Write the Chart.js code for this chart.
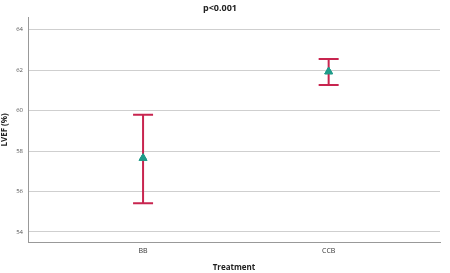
<!DOCTYPE html>
<html><head><meta charset="utf-8">
<script src="https://cdn.jsdelivr.net/npm/chart.js@4/dist/chart.umd.min.js"></script>
<style>html,body{margin:0;padding:0;background:#fff}#w{width:450px;height:273px}</style>
</head><body><div id="w"><canvas id="c"></canvas></div>
<script>
const categories = ["BB", "CCB"];
const means = [57.65, 61.93];
const upper = [59.8, 62.55];
const lower = [55.42, 61.27];
const yTicks = [54, 56, 58, 60, 62, 64];

const errorBars = {
  id: 'errorBars',
  afterDatasetsDraw(chart) {
    const ctx = chart.ctx, xs = chart.scales.x, ys = chart.scales.y;
    ctx.save();
    ctx.strokeStyle = '#c8254f';
    ctx.lineWidth = 2;
    categories.forEach((c, i) => {
      const x = xs.getPixelForValue(i);
      const yu = ys.getPixelForValue(upper[i]);
      const yl = ys.getPixelForValue(lower[i]);
      ctx.beginPath();
      ctx.moveTo(x, yu); ctx.lineTo(x, yl);
      ctx.moveTo(x - 10, yu); ctx.lineTo(x + 10, yu);
      ctx.moveTo(x - 10, yl); ctx.lineTo(x + 10, yl);
      ctx.stroke();
    });
    ctx.restore();
    const meta = chart.getDatasetMeta(0);
    meta.data.forEach(p => p.draw(ctx, chart.chartArea));
  }
};

new Chart(document.getElementById('c'), {
  type: 'scatter',
  data: {
    datasets: [{
      data: means.map((m, i) => ({x: i, y: m})),
      pointStyle: 'triangle',
      pointRadius: 4.5,
      backgroundColor: '#1f9c8a',
      borderColor: '#1f9c8a',
      borderWidth: 1
    }]
  },
  options: {
    responsive: true,
    maintainAspectRatio: false,
    animation: false,
    layout: {padding: {left: 0, right: 10, top: 0, bottom: 0}},
    plugins: {
      legend: {display: false},
      tooltip: {enabled: false},
      title: {display: true, text: 'p<0.001', color: '#222', font: {family: 'Open Sans', size: 9, weight: 'bold'}, padding: {top: 3, bottom: 4}}
    },
    scales: {
      x: {
        type: 'linear', min: -0.62, max: 1.6,
        afterBuildTicks: s => { s.ticks = categories.map((c, i) => ({value: i})); },
        ticks: {callback: v => categories[v], color: '#333', font: {family: 'Open Sans', size: 7}, padding: 5},
        grid: {display: false, drawTicks: false},
        border: {color: '#999', width: 1},
        title: {display: true, text: 'Treatment', color: '#222', font: {family: 'Open Sans', size: 8, weight: 'bold'}, padding: {top: 4, bottom: 0}},
        afterFit: s => { s.height = 31; }
      },
      y: {
        min: 53.5, max: 64.59,
        afterBuildTicks: s => { s.ticks = yTicks.map(v => ({value: v})); },
        ticks: {color: '#555', font: {family: 'Open Sans', size: 6}, padding: 5},
        grid: {color: '#cfcfcf', lineWidth: 1, drawTicks: false},
        border: {color: '#999', width: 1},
        title: {display: true, text: 'LVEF (%)', color: '#222', font: {family: 'Open Sans', size: 8, weight: 'bold'}, padding: {top: 0, bottom: 2}},
        afterFit: s => { s.width = 28; }
      }
    }
  },
  plugins: [errorBars]
});
</script></body></html>
